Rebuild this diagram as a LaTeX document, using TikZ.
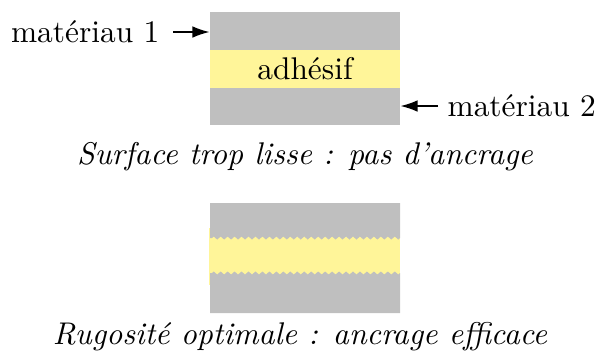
\documentclass[tikz,border=0pt]{standalone}
\usepackage{fontspec}
\usetikzlibrary{arrows.meta,positioning,decorations.pathmorphing}
\definecolor{gris}{RGB}{191,191,191}
\definecolor{colle}{RGB}{255,245,153}

\begin{document}
\begin{tikzpicture}[x=0.0112cm,y=-0.0112cm,
  fleche/.style={-{Latex[length=1.9mm,width=1.3mm]}},
  dents/.style={decoration={zigzag,segment length=0.078cm,amplitude=0.017cm}}]

\tikzstyle{couche} = [rectangle, inner sep=0pt, minimum width=2.128cm, text centered]
\tikzstyle{lab} = [inner sep=0pt]
\useasboundingbox (0,0) rectangle (612,354);

% surface lisse
\node (bloc) [couche, fill=gris, minimum height=1.266cm] at (305,68.5) {};
\node (colle) [couche, fill=colle, minimum height=0.4256cm] at (bloc) {adhésif};
\node (mat1) [lab, anchor=east] at (160,32) {matériau 1};
\node (mat2) [lab, anchor=west] at (447,106) {matériau 2};
\draw[fleche] (mat1.east) ++(13,0) -- (mat1 -| bloc.west);
\draw[fleche] (mat2.west) ++(-9,0) -- (mat2 -| bloc.east);
\node (leg1) [lab] at (305,157) {\itshape Surface trop lisse : pas d'ancrage};

% surface rugueuse
\fill[colle] (209,228) rectangle (400,285);
\fill[gris] (210,203) -- (400,203) -- (400,238)
  decorate[dents]{-- (210,238)} -- cycle;
\fill[gris] (210,313) -- (400,313) -- (400,273)
  decorate[dents]{-- (210,273)} -- cycle;
\node (leg2) [lab] at (300,337) {\itshape Rugosité optimale : ancrage efficace};
\end{tikzpicture}
\end{document}
